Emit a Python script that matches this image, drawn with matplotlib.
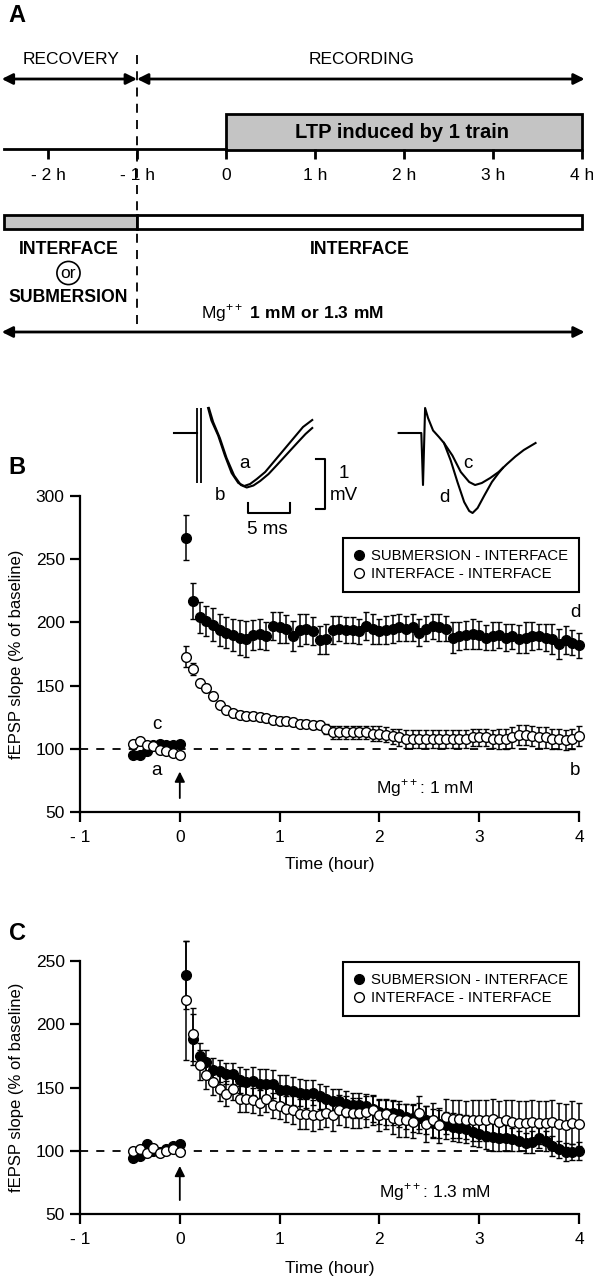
import numpy as np
import matplotlib
matplotlib.use('Agg')
import matplotlib.pyplot as plt
from matplotlib.lines import Line2D
from matplotlib.patches import Rectangle

plt.rcParams['font.family'] = 'Liberation Sans'
plt.rcParams['mathtext.fontset'] = 'custom'
plt.rcParams['mathtext.rm'] = 'Liberation Sans'
plt.rcParams['mathtext.bf'] = 'Liberation Sans:bold'

W, H = 593, 1280

# ------------------------------------------------------------------
# data
# ------------------------------------------------------------------
# 4-min bins, 30 min baseline before the train, 4 h after
minutes = np.arange(-28, 241, 4)
hours = minutes / 60.0

# panel B (Mg++ 1 mM)
b_sub = [95, 95, 98, 103, 104, 103, 103, 104,
         267, 217, 204, 201, 198, 194, 192, 190, 188, 187,
         190, 191, 189, 197, 196, 195, 189, 194, 195, 193,
         186, 187, 194, 195, 194, 194, 193, 197, 195, 193,
         194, 195, 196, 195, 196, 192, 195, 197, 196, 195,
         188, 189, 190, 191, 190, 188, 189, 190, 188, 189,
         187, 188, 189, 189, 188, 187, 183, 186, 184, 182]
b_sub_err = [2, 2, 2, 2, 2, 2, 2, 2,
             18, 14, 12, 12, 13, 13, 12, 13, 14, 14,
             12, 12, 11, 11, 12, 11, 12, 13, 12, 11,
             11, 12, 11, 10, 10, 10, 10, 11, 12, 10,
             11, 11, 11, 10, 11, 11, 10, 10, 11, 10,
             12, 11, 11, 12, 11, 10, 11, 10, 11, 10,
             11, 12, 11, 10, 11, 12, 12, 11, 10, 10]
b_int = [104, 106, 103, 102, 99, 98, 97, 95,
         173, 163, 152, 148, 142, 135, 131, 128, 127, 126,
         126, 125, 124, 123, 122, 122, 121, 120, 120, 119,
         119, 116, 113, 113, 113, 113, 113, 113, 112, 112,
         111, 110, 109, 108, 108, 108, 108, 108, 108, 108,
         108, 108, 108, 109, 109, 109, 108, 108, 108, 109,
         111, 111, 110, 109, 109, 108, 108, 107, 108, 110]
b_int_err = [2, 2, 2, 2, 2, 2, 2, 2,
             8, 5, 3, 3, 3, 3, 3, 3, 3, 3,
             3, 3, 3, 3, 3, 3, 3, 3, 3, 3,
             3, 4, 5, 5, 5, 5, 5, 5, 6, 6,
             6, 6, 7, 7, 7, 7, 7, 7, 7, 7,
             7, 7, 7, 7, 7, 7, 7, 8, 8, 8,
             8, 8, 8, 8, 8, 8, 8, 8, 8, 8]

# panel C (Mg++ 1.3 mM)
c_sub = [94, 96, 105, 100, 99, 101, 104, 105,
         239, 188, 175, 170, 164, 163, 161, 161, 156, 154,
         155, 153, 153, 153, 148, 148, 147, 146, 145, 146,
         143, 141, 139, 139, 137, 136, 136, 135, 133, 131,
         130, 130, 129, 127, 126, 126, 124, 122, 121, 120,
         119, 118, 117, 115, 113, 112, 111, 110, 110, 109,
         108, 106, 107, 110, 108, 104, 101, 99, 99, 100]
c_sub_err = [2, 2, 2, 2, 2, 2, 2, 2,
             27, 20, 10, 10, 9, 9, 8, 8, 10, 11,
             11, 12, 12, 11, 12, 12, 11, 11, 11, 10,
             10, 10, 10, 10, 10, 10, 10, 10, 10, 10,
             10, 10, 10, 10, 11, 12, 11, 11, 11, 11,
             11, 11, 11, 11, 10, 11, 11, 10, 10, 9,
             8, 8, 9, 8, 8, 8, 7, 7, 6, 7]
c_int = [100, 101, 98, 102, 98, 100, 101, 99,
         219, 192, 168, 160, 154, 149, 145, 149, 141, 141,
         140, 138, 141, 136, 135, 133, 132, 129, 129, 128,
         128, 130, 128, 132, 131, 130, 130, 131, 132, 128,
         129, 126, 124, 124, 123, 130, 121, 124, 120, 127,
         125, 125, 124, 124, 124, 124, 125, 123, 124, 123,
         122, 122, 123, 122, 122, 123, 121, 120, 122, 121]
c_int_err = [2, 2, 2, 2, 2, 2, 2, 2,
             47, 21, 12, 11, 10, 10, 10, 9, 10, 10,
             10, 10, 10, 10, 10, 10, 11, 12, 12, 12,
             11, 11, 12, 12, 12, 12, 12, 12, 12, 12,
             12, 13, 13, 13, 13, 13, 14, 14, 14, 14,
             15, 15, 15, 16, 16, 16, 16, 16, 16, 17,
             17, 17, 17, 17, 17, 17, 17, 17, 17, 17]

series_labels = ['SUBMERSION - INTERFACE', 'INTERFACE - INTERFACE']

# panel A schedule
sched_hours = [-2, -1, 0, 1, 2, 3, 4]
sched_labels = ['- 2 h', '- 1 h', '0', '1 h', '2 h', '3 h', '4 h']

# example fEPSP traces (ms, mV)
tr_a_t = [1.2, 1.6, 2.4, 3.2, 4.0, 4.8, 5.5, 6.2, 7.0, 8.0, 9.0, 10.2, 11.4, 12.5, 13.6]
tr_a_v = [0.5, 0.25, -0.05, -0.45, -0.8, -1.0, -1.06, -1.02, -0.92, -0.78, -0.58, -0.34, -0.1, 0.12, 0.26]
tr_b_t = [1.3, 1.8, 2.6, 3.4, 4.3, 5.1, 5.8, 6.6, 7.4, 8.4, 9.4, 10.6, 11.8, 12.8, 13.6]
tr_b_v = [0.5, 0.22, -0.1, -0.5, -0.85, -1.04, -1.09, -1.05, -0.96, -0.82, -0.64, -0.42, -0.2, -0.02, 0.1]
tr_c_t = [-2.9, -0.2, 0.0, 0.25, 0.6, 1.2, 1.9, 2.5, 3.5, 4.5, 5.5, 6.2, 7.0, 8.0, 9.0, 10.0, 11.0, 12.0, 13.4]
tr_c_v = [0, 0, -1.04, 0.5, 0.3, 0.05, -0.08, -0.2, -0.45, -0.78, -0.98, -1.04, -1.0, -0.9, -0.78, -0.62, -0.47, -0.34, -0.2]
tr_d_t = [2.5, 3.3, 4.1, 4.9, 5.5, 5.9, 6.5, 7.3, 8.2, 9.0, 9.5]
tr_d_v = [-0.2, -0.55, -0.98, -1.38, -1.56, -1.6, -1.5, -1.25, -0.98, -0.8, -0.7]


def fig_box(x0, y0, x1, y1):
    """pixel box (top-left origin) -> figure fraction rect"""
    return [x0 / W, 1 - y1 / H, (x1 - x0) / W, (y1 - y0) / H]


def fig_xy(x, y):
    return x / W, 1 - y / H


fig = plt.figure(figsize=(W / 100, H / 100), dpi=100)

# ------------------------------------------------------------------
# panel A: protocol
# ------------------------------------------------------------------
ax_a = fig.add_axes(fig_box(0, 0, W, 360))
ax_a.set_xlim((0 - 226) / 89.0, (W - 226) / 89.0)
ax_a.set_ylim(360, 0)
ax_a.axis('off')

arrow_kw = dict(arrowstyle='<|-|>', color='k', lw=2, mutation_scale=16, shrinkA=0, shrinkB=0)
ax_a.annotate('', xy=(-2.52, 79), xytext=(-1, 79), arrowprops=arrow_kw)
ax_a.annotate('', xy=(-1, 79), xytext=(4.03, 79), arrowprops=arrow_kw)
ax_a.annotate('', xy=(-2.52, 332), xytext=(4.03, 332), arrowprops=arrow_kw)
ax_a.text(-1.74, 60, 'RECOVERY', ha='center', va='center', fontsize=12.5)
ax_a.text(1.52, 60, 'RECORDING', ha='center', va='center', fontsize=12.5)

ax_a.plot([-1, -1], [55, 332], color='k', lw=1.3, dashes=(5, 4))

ax_a.plot([-2.5, 0], [149, 149], color='k', lw=2)
ax_a.add_patch(Rectangle((0, 114), 4, 36, fc='#c4c4c4', ec='k', lw=2))
ax_a.text(1.98, 132, 'LTP induced by 1 train', ha='center', va='center',
          fontsize=14.5, fontweight='bold')
ax_a.vlines(sched_hours, 149, 159, color='k', lw=2)
for h, lab in zip(sched_hours, sched_labels):
    ax_a.text(h, 175, lab, ha='center', va='center', fontsize=12.5)

ax_a.add_patch(Rectangle((-2.5, 215), 1.5, 14, fc='#c4c4c4', ec='k', lw=2))
ax_a.add_patch(Rectangle((-1, 215), 5, 14, fc='white', ec='k', lw=2))

ax_a.text(-1.77, 250, 'INTERFACE', ha='center', va='center', fontsize=12.7, fontweight='bold')
ax_a.text(-1.77, 273, 'or', ha='center', va='center', fontsize=12.5,
          bbox=dict(boxstyle='circle,pad=0.22', fc='white', ec='k', lw=1.2))
ax_a.text(-1.77, 297, 'SUBMERSION', ha='center', va='center', fontsize=12.7, fontweight='bold')
ax_a.text(1.5, 250, 'INTERFACE', ha='center', va='center', fontsize=12.7, fontweight='bold')
ax_a.text(0.75, 313, r'Mg$^{++}$ $\mathbf{1\ mM\ or\ 1.3\ mM}$', ha='center', va='center',
          fontsize=12.5)

# ------------------------------------------------------------------
# panels B and C
# ------------------------------------------------------------------
def ltp_panel(box, ylim, sub, sub_err, itf, itf_err, leg_anchor, mg_text, mg_xy, arrow_y):
    ax = fig.add_axes(fig_box(*box))
    ax.plot([-1, 4], [100, 100], color='k', lw=1.3, dashes=(4.5, 4.5), zorder=0)
    ax.errorbar(hours, sub, yerr=sub_err, fmt='o', ms=7, mfc='k', mec='k', mew=1,
                ecolor='k', elinewidth=1.1, capsize=2.3, capthick=1.1, clip_on=False, zorder=2)
    ax.errorbar(hours, itf, yerr=itf_err, fmt='o', ms=7, mfc='white', mec='k', mew=1,
                ecolor='k', elinewidth=1.1, capsize=2.3, capthick=1.1, clip_on=False, zorder=3)
    ax.set_xlim(-1, 4)
    ax.set_ylim(*ylim)
    ax.set_xticks([-1, 0, 1, 2, 3, 4])
    ax.set_xticklabels(['- 1', '0', '1', '2', '3', '4'])
    ax.set_yticks(np.arange(ylim[0], ylim[1] + 1, 50))
    for s in ['top', 'right']:
        ax.spines[s].set_visible(False)
    for s in ['left', 'bottom']:
        ax.spines[s].set_linewidth(1.6)
    ax.tick_params(direction='out', length=7, width=1.6, labelsize=12.5)
    ax.tick_params(axis='x', pad=6)
    ax.tick_params(axis='y', pad=4)
    ax.annotate('', xy=(0, arrow_y[1]), xytext=(0, arrow_y[0]),
                arrowprops=dict(arrowstyle='-|>', color='k', lw=1.3, mutation_scale=15,
                                shrinkA=0, shrinkB=0))
    ax.text(mg_xy[0], mg_xy[1], mg_text, ha='center', va='center', fontsize=12.5)
    handles = [Line2D([], [], ls='none', marker='o', ms=7, mfc='k', mec='k'),
               Line2D([], [], ls='none', marker='o', ms=7, mfc='white', mec='k')]
    leg = ax.legend(handles, series_labels, loc='upper left', bbox_to_anchor=leg_anchor,
                    frameon=True, fancybox=False, edgecolor='k', fontsize=10.7,
                    handlelength=0.7, handletextpad=0.45, borderpad=0.75, labelspacing=0.25,
                    borderaxespad=0, framealpha=1)
    leg.get_frame().set_linewidth(1.5)
    return ax


ax_b = ltp_panel((80, 496, 579, 812), (50, 300), b_sub, b_sub_err, b_int, b_int_err,
                 (0.527, 0.867), r'Mg$^{++}$: 1 mM', (2.45, 69), (61, 82))
ax_b.text(-0.23, 119, 'c', ha='center', va='center', fontsize=13.5)
ax_b.text(-0.23, 83, 'a', ha='center', va='center', fontsize=13.5)
ax_b.text(3.96, 208, 'd', ha='center', va='center', fontsize=13.5, clip_on=False)
ax_b.text(3.96, 83, 'b', ha='center', va='center', fontsize=13.5, clip_on=False)

ax_c = ltp_panel((80, 961, 579, 1214), (50, 250), c_sub, c_sub_err, c_int, c_int_err,
                 (0.527, 0.996), r'Mg$^{++}$: 1.3 mM', (2.56, 67), (61, 88))

fig.text(*fig_xy(330, 865), 'Time (hour)', ha='center', va='center', fontsize=12.5)
fig.text(*fig_xy(330, 1268), 'Time (hour)', ha='center', va='center', fontsize=12.5)
fig.text(*fig_xy(17, 654), 'fEPSP slope (% of baseline)', ha='center', va='center',
         rotation=90, fontsize=12)
fig.text(*fig_xy(17, 1087), 'fEPSP slope (% of baseline)', ha='center', va='center',
         rotation=90, fontsize=12)

# ------------------------------------------------------------------
# inset traces above panel B
# ------------------------------------------------------------------
ax_t1 = fig.add_axes(fig_box(170, 400, 350, 540))
ax_t1.set_xlim((170 - 198) / 8.4, (350 - 198) / 8.4)
ax_t1.set_ylim(-2.14, 0.66)
ax_t1.axis('off')
ax_t1.patch.set_alpha(0)
ax_t1.plot([-2.8, -0.15], [0, 0], color='k', lw=1.5)
ax_t1.vlines([-0.15, 0.3], -1.0, 0.5, color='k', lw=1.3)
ax_t1.plot(tr_a_t, tr_a_v, color='k', lw=1.5)
ax_t1.plot(tr_b_t, tr_b_v, color='k', lw=1.5)
ax_t1.text(5.5, -0.6, 'a', ha='center', va='center', fontsize=13.5)
ax_t1.text(2.6, -1.26, 'b', ha='center', va='center', fontsize=13.5)
ax_t1.plot([14.05, 15.12, 15.12, 14.05], [-0.52, -0.52, -1.52, -1.52], color='k', lw=1.5)
ax_t1.plot([5.95, 5.95, 10.95, 10.95], [-1.4, -1.6, -1.6, -1.4], color='k', lw=1.5)
ax_t1.text(17.4, -0.82, '1', ha='center', va='center', fontsize=13.5)
ax_t1.text(17.4, -1.24, 'mV', ha='center', va='center', fontsize=13.5)
ax_t1.text(8.3, -1.94, '5 ms', ha='center', va='center', fontsize=13.5)

ax_t2 = fig.add_axes(fig_box(395, 400, 545, 540))
ax_t2.set_xlim((395 - 423) / 8.4, (545 - 423) / 8.4)
ax_t2.set_ylim(-2.14, 0.66)
ax_t2.axis('off')
ax_t2.patch.set_alpha(0)
ax_t2.plot(tr_c_t, tr_c_v, color='k', lw=1.5)
ax_t2.plot(tr_d_t, tr_d_v, color='k', lw=1.5)
ax_t2.text(5.4, -0.62, 'c', ha='center', va='center', fontsize=13.5)
ax_t2.text(2.5, -1.28, 'd', ha='center', va='center', fontsize=13.5)

# panel letters
fig.text(*fig_xy(17, 15), 'A', ha='center', va='center', fontsize=17, fontweight='bold')
fig.text(*fig_xy(17, 467), 'B', ha='center', va='center', fontsize=17, fontweight='bold')
fig.text(*fig_xy(17, 933), 'C', ha='center', va='center', fontsize=17, fontweight='bold')

fig.savefig('out.png', dpi=100)
